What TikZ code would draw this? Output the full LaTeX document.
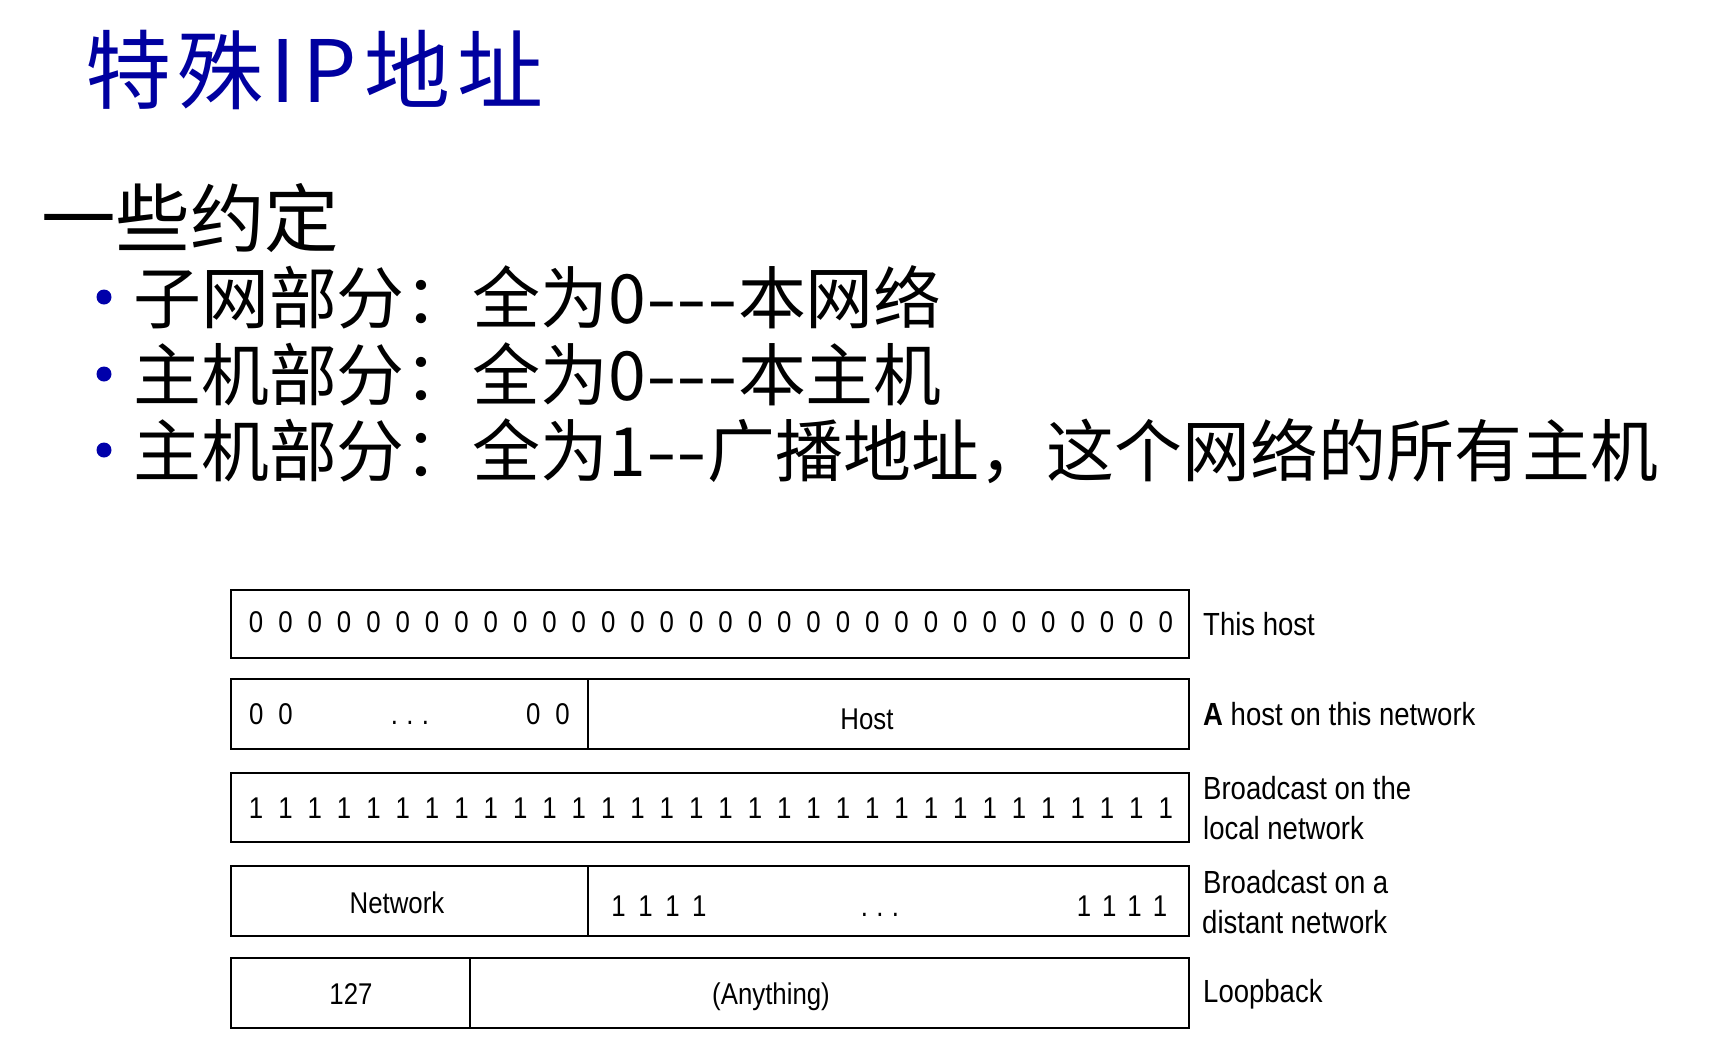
\documentclass[tikz,border=0pt]{standalone}
\usepackage{fontspec}
\usepackage{graphicx}
\newfontfamily\cjk{Noto Sans CJK SC}
\newfontfamily\cjkwide[LetterSpace=8]{Noto Sans CJK SC}
\newfontfamily\diag[FakeStretch=0.86]{Liberation Sans}
\definecolor{titleblue}{RGB}{0,0,160}
\definecolor{dotblue}{RGB}{0,0,170}
% a hyphen drawn a little wider, as in the bullet lines
\newcommand\widehy{\scalebox{1.3}[1]{-}}
\tikzset{
  titletext/.style={anchor=base west,inner sep=0pt,text=titleblue,font=\cjkwide\fontsize{86}{96}\selectfont},
  headtext/.style={anchor=base west,inner sep=0pt,font=\cjk\fontsize{74.5}{86}\selectfont},
  bodytext/.style={anchor=base west,inner sep=0pt,font=\cjk\fontsize{67.9}{78}\selectfont},
  bulletdot/.style={circle,fill=dotblue,inner sep=0pt,minimum size=15pt},
  field/.style={draw=black,line width=2.4pt},
  bits/.style={anchor=base,inner sep=0pt,font={\diag\fontsize{30}{36}\selectfont\spaceskip=15pt\relax}},
  fieldtext/.style={anchor=base,inner sep=0pt,font={\diag\fontsize{30}{36}\selectfont}},
  sidetext/.style={anchor=base west,inner sep=0pt,font={\diag\fontsize{32}{38}\selectfont}},
}
\begin{document}
\begin{tikzpicture}[x=1pt,y=-1pt]
\useasboundingbox[fill=white] (0,0) rectangle (1714,1045);

% heading and conventions
\node[titletext] (title) at (85,102) {特殊IP地址};
\node[headtext] (intro) at (41,246) {一些约定};
\node[bulletdot] (d1) at (104,297) {};
\node[bulletdot] (d2) at (104,374) {};
\node[bulletdot] (d3) at (104,450) {};
\node[bodytext] (b1) at (133,323) {子网部分：全为0\widehy\widehy\widehy 本网络};
\node[bodytext] (b2) at (133,400) {主机部分：全为0\widehy\widehy\widehy 本主机};
\node[bodytext] (b3) at (133,476) {主机部分：全为1\widehy\widehy 广播地址，这个网络的所有主机};

% address fields
\draw[field] (231,590) rectangle (1189,658);
\draw[field] (231,679) rectangle (1189,749);
\draw[field] (588,679) -- (588,749);
\draw[field] (231,773) rectangle (1189,842);
\draw[field] (231,866) rectangle (1189,936);
\draw[field] (588,866) -- (588,936);
\draw[field] (231,958) rectangle (1189,1028);
\draw[field] (470,958) -- (470,1028);

% this host
\node[bits] (allzero) at (711,632) {0 0 0 0 0 0 0 0 0 0 0 0 0 0 0 0 0 0 0 0 0 0 0 0 0 0 0 0 0 0 0 0};
% a host on this network
\node[bits] (netzeroa) at (271,724) {0 0};
\node[bits,font={\diag\fontsize{30}{36}\selectfont\spaceskip=6pt\relax}] (netdots) at (410,724) {. . .};
\node[bits] (netzerob) at (548,724) {0 0};
\node[fieldtext] (host) at (867,729) {Host};
% broadcast on the local network
\node[bits] (allone) at (711,818) {1 1 1 1 1 1 1 1 1 1 1 1 1 1 1 1 1 1 1 1 1 1 1 1 1 1 1 1 1 1 1 1};
% broadcast on a distant network
\node[fieldtext] (network) at (397,913) {Network};
\node[bits,font={\diag\fontsize{30}{36}\selectfont\spaceskip=12.6pt\relax}] (hostonea) at (659,916) {1 1 1 1};
\node[bits,font={\diag\fontsize{30}{36}\selectfont\spaceskip=6pt\relax}] (hostdots) at (880,916) {. . .};
\node[bits,font={\diag\fontsize{30}{36}\selectfont\spaceskip=11pt\relax}] (hostoneb) at (1122,916) {1 1 1 1};
% loopback
\node[fieldtext] (lo) at (351,1004) {127};
\node[fieldtext] (any) at (771,1004) {(Anything)};

% descriptions
\node[sidetext] (l1) at (1203,635) {This host};
\node[sidetext] (l2) at (1203,725) {\textbf{A} host on this network};
\node[sidetext] (l3a) at (1203,799) {Broadcast on the};
\node[sidetext] (l3b) at (1203,839) {local network};
\node[sidetext] (l4a) at (1203,893) {Broadcast on a};
\node[sidetext] (l4b) at (1202,933) {distant network};
\node[sidetext] (l5) at (1203,1002) {Loopback};
\end{tikzpicture}
\end{document}
